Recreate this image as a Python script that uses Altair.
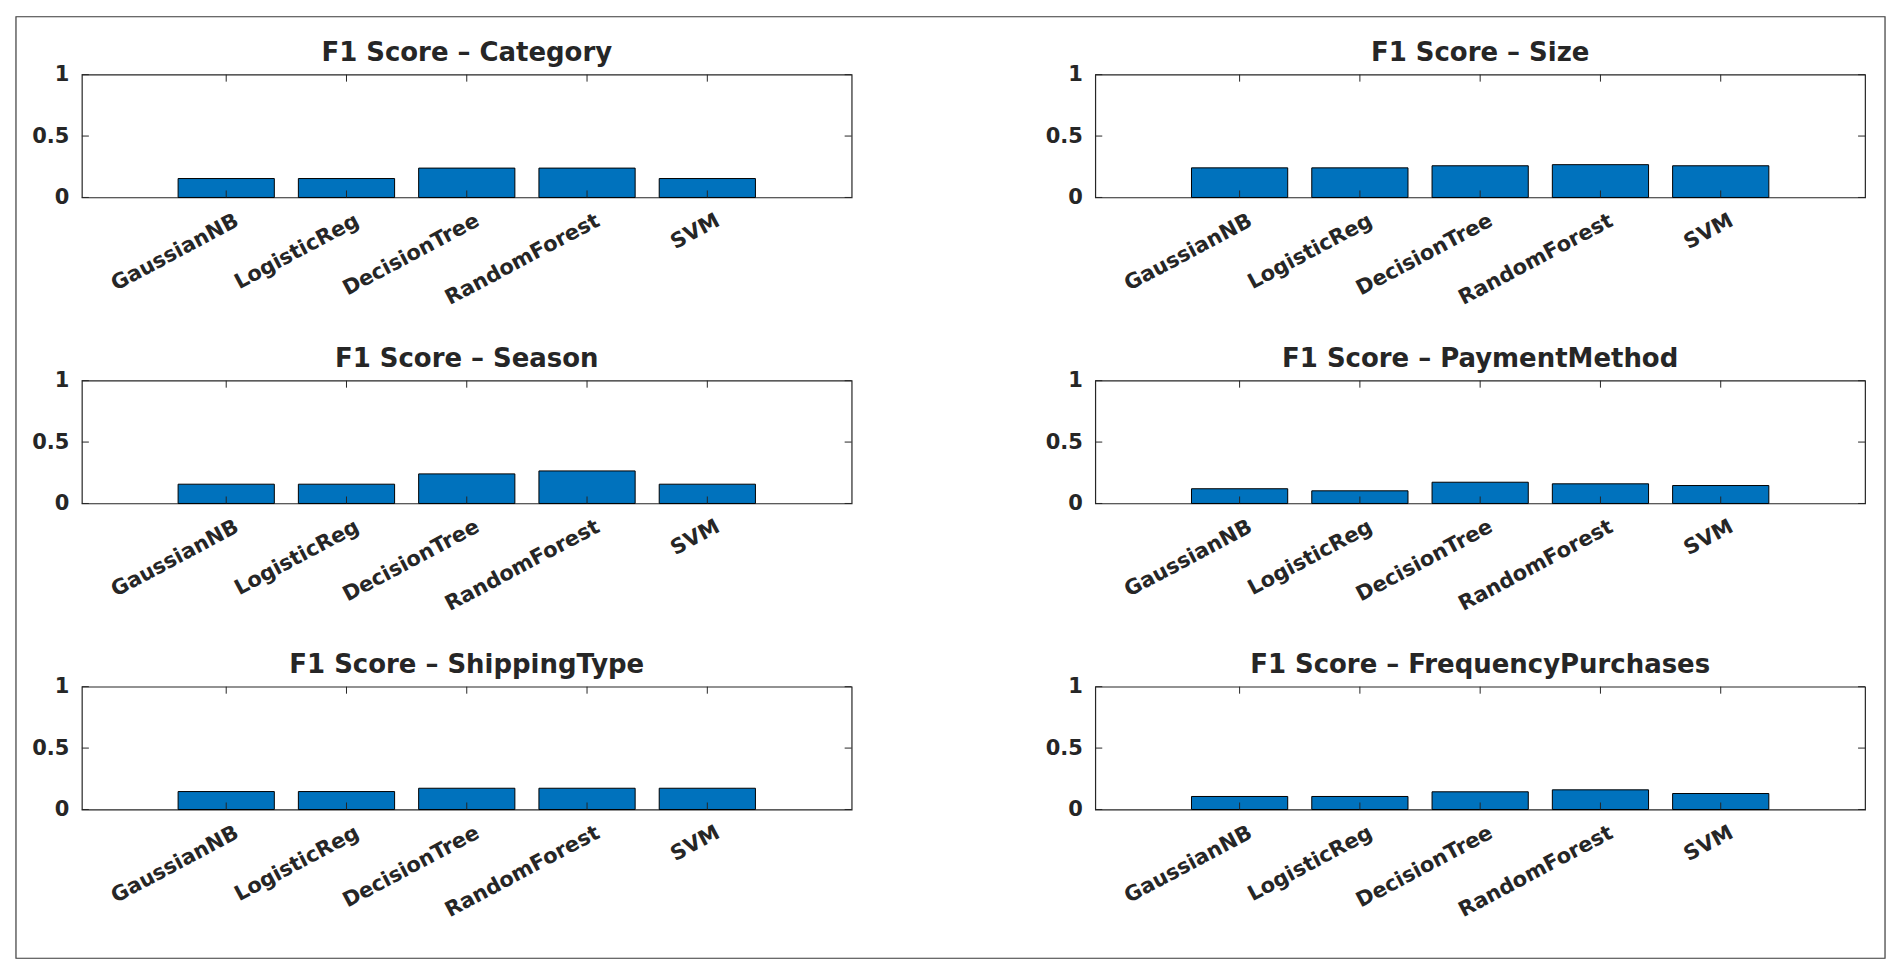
import altair as alt
import pandas as pd

# ---- data ----
models = ["GaussianNB", "LogisticReg", "DecisionTree", "RandomForest", "SVM"]
targets = ["Category", "Size", "Season", "PaymentMethod", "ShippingType", "FrequencyPurchases"]
f1_category = [0.154, 0.154, 0.239, 0.239, 0.154]
f1_size = [0.241, 0.241, 0.258, 0.267, 0.258]
f1_season = [0.157, 0.157, 0.241, 0.265, 0.157]
f1_payment = [0.120, 0.103, 0.173, 0.160, 0.146]
f1_shipping = [0.146, 0.146, 0.173, 0.173, 0.173]
f1_frequency = [0.106, 0.106, 0.144, 0.160, 0.130]
y_ticks = [0, 0.5, 1]

series = [f1_category, f1_size, f1_season, f1_payment, f1_shipping, f1_frequency]

# ---- style ----
W, H = 771, 123
TICK = 7
FONT = "DejaVu Sans"
INK = "#262626"
BAR = "#0072BD"

X_AXIS = alt.Axis(
    title=None, grid=False, ticks=False, domain=False,
    labelAngle=-28, labelAlign="right", labelBaseline="top",
    labelPadding=12, labelOffset=6, labelOverlap=False,
    labelFont=FONT, labelFontSize=21, labelFontWeight="bold",
    labelColor=INK, labelLimit=0,
)
Y_AXIS = alt.Axis(
    values=y_ticks, format="~g", title=None, grid=False,
    ticks=False, domain=False, labelPadding=13,
    labelFont=FONT, labelFontSize=21, labelFontWeight="bold",
    labelColor=INK,
)


def panel(target, values, frame=False):
    df = pd.DataFrame({"model": models, "f1": values})
    xscale = alt.Scale(domain=models, paddingInner=0.2, paddingOuter=0.8)
    yscale = alt.Scale(domain=[0, 1], nice=False)
    xenc = alt.X("model:N", sort=models, scale=xscale, axis=X_AXIS)
    base = alt.Chart(df)
    bars = base.mark_bar(color=BAR, stroke="black", strokeWidth=1).encode(
        x=xenc,
        y=alt.Y("f1:Q", scale=yscale, axis=Y_AXIS),
        tooltip=["model", "f1"],
    )
    top_ticks = base.mark_rule(color=INK, strokeWidth=1).encode(
        x=xenc, y=alt.value(0), y2=alt.value(TICK),
    )
    bot_ticks = base.mark_rule(color=INK, strokeWidth=1).encode(
        x=xenc, y=alt.value(H), y2=alt.value(H - TICK),
    )
    yt = alt.Chart(pd.DataFrame({"t": y_ticks}))
    yenc = alt.Y("t:Q", scale=yscale, axis=Y_AXIS)
    left_ticks = yt.mark_rule(color=INK, strokeWidth=1).encode(
        y=yenc, x=alt.value(0), x2=alt.value(TICK),
    )
    right_ticks = yt.mark_rule(color=INK, strokeWidth=1).encode(
        y=yenc, x=alt.value(W), x2=alt.value(W - TICK),
    )
    title = alt.Chart(pd.DataFrame({"title": [f"F1 Score \u2013 {target}"]})).mark_text(
        font=FONT, fontSize=26, fontWeight="bold", color=INK,
        align="center", baseline="alphabetic",
    ).encode(text="title:N", x=alt.value(W / 2), y=alt.value(-14))
    layers = [bars, top_ticks, bot_ticks, left_ticks, right_ticks, title]
    if frame:
        border = alt.Chart(pd.DataFrame({"k": [0]})).mark_rect(
            filled=False, stroke="#3a3a3a", strokeWidth=1.2
        ).encode(
            x=alt.value(-66), x2=alt.value(1806),
            y=alt.value(-58), y2=alt.value(885),
        )
        layers.append(border)
    return alt.layer(*layers).properties(width=W, height=H)


panels = [panel(t, v, frame=(i == 0)) for i, (t, v) in enumerate(zip(targets, series))]
chart = (
    alt.concat(
        *panels, columns=2,
        spacing=alt.RowColnumber(row=183.5, column=244),
        bounds="flush",
    )
    .properties(padding={"left": 14, "top": 14, "right": 14, "bottom": 14}, background="white")
    .configure_view(stroke=INK, strokeWidth=1.2)
)

chart.save("out.html", embed_options={"renderer": "svg", "actions": False})
